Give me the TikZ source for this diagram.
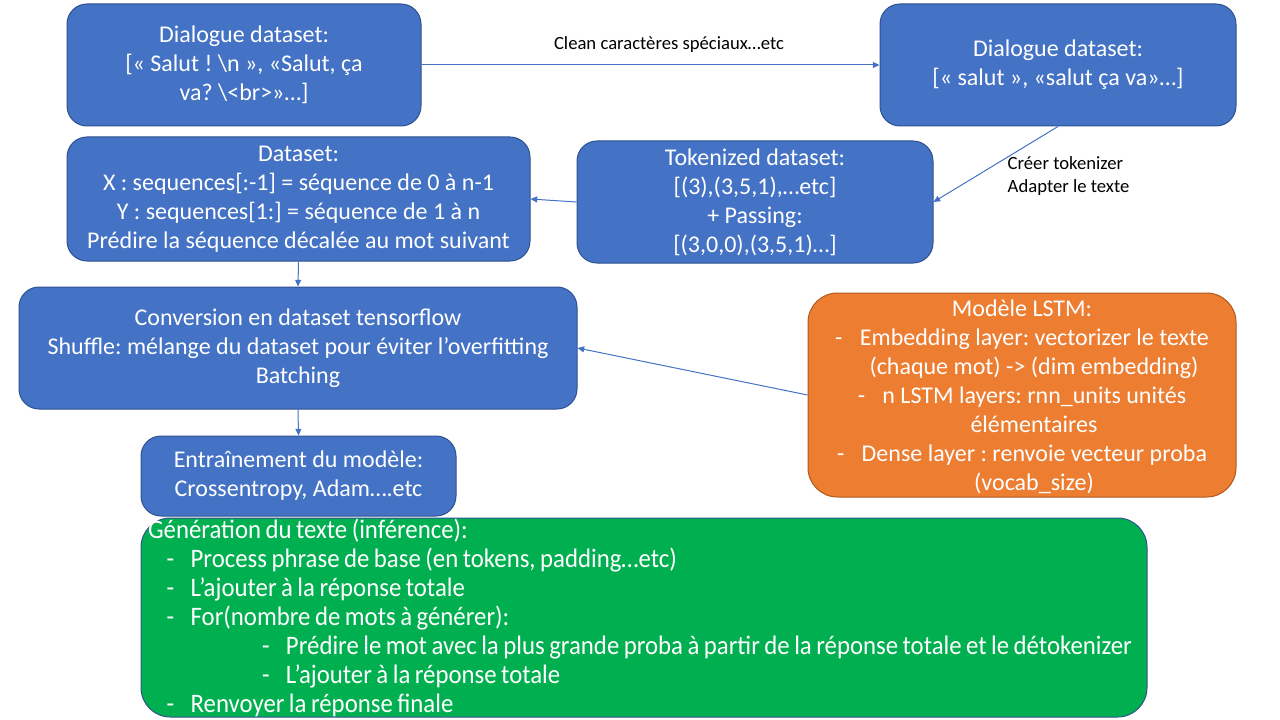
\documentclass[tikz,border=0pt]{standalone}
\usepackage{fontspec}
\setmainfont{Carlito}
\newfontfamily\narrowfont[FakeStretch=0.93,WordSpace=0.8]{Carlito}
\usetikzlibrary{arrows.meta,positioning}
\definecolor{boxblue}{HTML}{4472C4}
\definecolor{boxedge}{HTML}{2F528F}
\definecolor{modelorange}{HTML}{ED7D31}
\definecolor{modeledge}{HTML}{AE5A21}
\definecolor{infergreen}{HTML}{00B050}
\tikzset{>={Triangle[length=5pt,width=4.5pt]},
  every node/.style={font=\fontsize{18}{21.75}\selectfont},
  stage/.style={draw=boxedge,fill=boxblue,text=white,rounded corners=15pt,align=center,line width=.75pt,inner sep=0pt},
  flow/.style={->,draw=boxblue,line width=.75pt},
  note/.style={font=\fontsize{14}{17}\selectfont,align=left}}
\newcommand{\gitem}[1]{\hspace*{14pt}\makebox[18pt][l]{-}#1}
\newcommand{\gsubitem}[1]{\hspace*{85.5pt}\makebox[18pt][l]{-}#1}
\newcommand{\litem}[1]{-\hspace{13pt}#1}
\frenchspacing

\begin{document}
\begin{tikzpicture}[x=.75pt,y=-.75pt]
\useasboundingbox (0,0) rectangle (1280,720);
% preprocessing
\node[stage,minimum width=265.5pt,minimum height=91.5pt] (raw) at (244,65) {Dialogue dataset:\\{}[« Salut ! \textbackslash n », «Salut, ça\\va? \textbackslash<br>»…]};
\node[stage,minimum width=267pt,minimum height=91.5pt] (clean) at (1058,65) {Dialogue dataset:\\{}[« salut », «salut ça va»…]};
\node[stage,minimum width=267pt,minimum height=91.5pt] (tok) at (755,202) {Tokenized dataset:\\{}[(3),(3,5,1),…etc]\\+ Passing:\\{}[(3,0,0),(3,5,1)…]};
\node[stage,minimum width=347.25pt,minimum height=93pt] (xy) at (298.5,199) {Dataset:\\X : sequences[:-1] = séquence de 0 à n-1\\Y : sequences[1:] = séquence de 1 à n\\Prédire la séquence décalée au mot suivant};
% training
\node[stage,minimum width=418.5pt,minimum height=91.5pt] (tfds) at (298,348) {Conversion en dataset tensorflow\\Shuffle: mélange du dataset pour éviter l’overfitting\\Batching};
\node[stage,draw=modeledge,fill=modelorange,rounded corners=22pt,minimum width=321pt,minimum height=153pt,text depth=-6pt] (lstm) at (1022,395) {Modèle LSTM:\\\litem{Embedding layer: vectorizer le texte}\\\hspace*{18pt}(chaque mot) -{}> (dim embedding)\\\litem{n LSTM layers: rnn\_units unités}\\\hspace*{18pt}élémentaires\\\litem{Dense layer : renvoie vecteur proba}\\\hspace*{18pt}(vocab\_size)};
\node[stage,minimum width=236.25pt,minimum height=60pt] (train) at (298.5,476) {Entraînement du modèle:\\Crossentropy, Adam….etc};
% inference
\node[stage,fill=infergreen,rounded corners=22pt,align=flush left,text width=744pt,inner xsep=5.25pt,minimum height=149.25pt,font=\narrowfont\fontsize{20}{21.75}\selectfont] (gen) at (644,617.5) {Génération du texte (inférence):\\\gitem{Process phrase de base (en tokens, padding…etc)}\\\gitem{L’ajouter à la réponse totale}\\\gitem{For(nombre de mots à générer):}\\\gsubitem{Prédire le mot avec la plus grande proba à partir de la réponse totale et le détokenizer}\\\gsubitem{L’ajouter à la réponse totale}\\\gitem{Renvoyer la réponse finale}};
% connectors
\draw[flow] (raw.east) -- (clean.west);
\node[note] (cleanlbl) at (669,45) {Clean caractères spéciaux…etc};
\draw[flow] (clean.south) -- (tok.east);
\node[note,anchor=west] (toklbl) at (1003,176) {Créer tokenizer\\Adapter le texte};
\draw[flow] (tok.west) -- (xy.east);
\draw[flow] (xy.south) -- (tfds.north);
\draw[flow] (lstm.west) -- (tfds.east);
\draw[flow] (tfds.south) -- (train.north);
\end{tikzpicture}
\end{document}
